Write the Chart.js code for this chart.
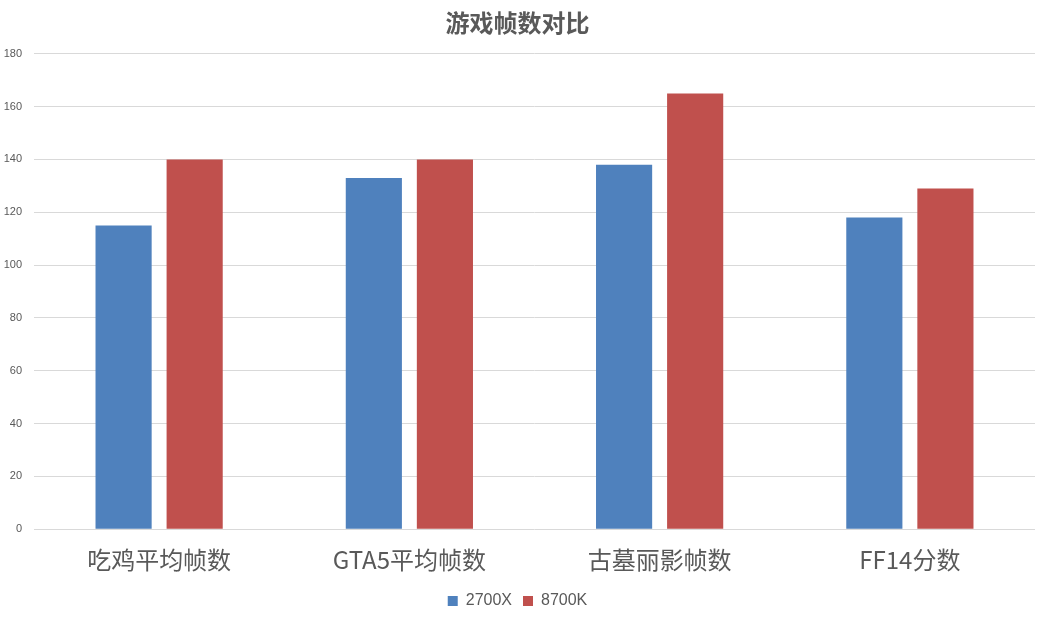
<!DOCTYPE html>
<html>
<head>
<meta charset="utf-8">
<script src="https://cdn.jsdelivr.net/npm/chart.js@4"></script>
<style>
  body { margin: 0; background: #fff; }
  #wrap { width: 1044px; height: 619px; }
</style>
</head>
<body>
<div id="wrap"><canvas id="myChart"></canvas></div>
<script>
'use strict';

// chart data
let categories = ['吃鸡平均帧数', 'GTA5平均帧数', '古墓丽影帧数', 'FF14分数'];
let seriesNames = ['2700X', '8700K'];
let values2700x = [115, 133, 138, 118];
let values8700k = [140, 140, 165, 129];
let yTicks = [0, 20, 40, 60, 80, 100, 120, 140, 160, 180];

let textColor = '#595959';
let ctx = document.getElementById('myChart');

let myChartObj = {
  type: 'bar',
  data: {
    labels: categories,
    datasets: [{
      label: seriesNames[0],
      data: values2700x,
      backgroundColor: '#4f81bd',
      categoryPercentage: 0.568,
      barPercentage: 0.79
    },
    {
      label: seriesNames[1],
      data: values8700k,
      backgroundColor: '#c0504d',
      categoryPercentage: 0.568,
      barPercentage: 0.79
    }]
  },
  options: {
    responsive: true,
    maintainAspectRatio: false,
    animation: false,
    layout: { padding: { left: 0, right: 9, top: 0, bottom: 0 } },
    plugins: {
      title: {
        display: true,
        text: '游戏帧数对比',
        color: textColor,
        font: { family: '"Noto Sans CJK SC"', size: 24, weight: 'bold' },
        padding: { top: 8, bottom: 17 }
      },
      legend: {
        position: 'bottom',
        labels: {
          color: textColor,
          boxWidth: 10,
          boxHeight: 10,
          padding: 11,
          font: { family: '"Liberation Sans", sans-serif', size: 16 }
        }
      },
      tooltip: { enabled: false }
    },
    scales: {
      x: {
        grid: { display: false },
        border: { display: false },
        ticks: {
          color: textColor,
          padding: 8,
          font: { family: '"Noto Sans CJK SC"', size: 24 }
        }
      },
      y: {
        min: 0,
        max: 180,
        afterBuildTicks: function (axis) {
          axis.ticks = yTicks.map(function (v) { return { value: v }; });
        },
        afterFit: function (axis) {
          axis.width = 34;
        },
        grid: { color: '#d9d9d9', lineWidth: 1, drawTicks: false },
        border: { display: false },
        ticks: {
          color: textColor,
          padding: 12,
          font: { family: '"Liberation Sans", sans-serif', size: 11 }
        }
      }
    }
  }
};

new Chart(ctx, myChartObj);
</script>
</body>
</html>
